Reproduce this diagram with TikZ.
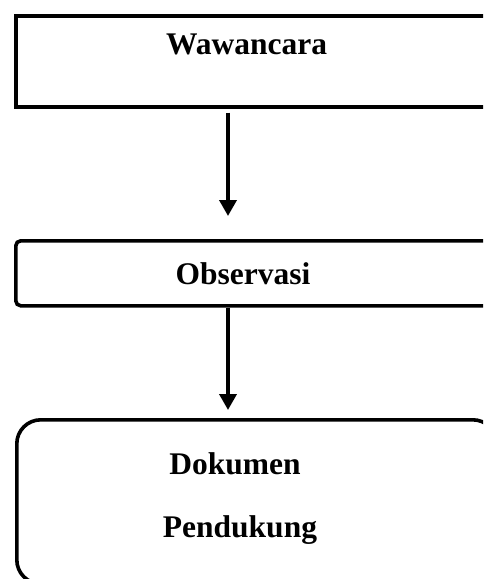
\documentclass[tikz,border=0pt]{standalone}
\usepackage{fontspec}
\setmainfont{Liberation Serif}
\usetikzlibrary{arrows.meta}

\tikzset{
  kotak/.style={draw, line width=3.6pt, inner sep=0pt, anchor=north west},
  teks/.style={font=\fontsize{31.5pt}{38pt}\selectfont\bfseries, anchor=base, inner sep=0pt},
  panah/.style={line width=3.6pt, -{Triangle[width=17pt,length=16pt]}}
}

\begin{document}
\begin{tikzpicture}[x=1pt,y=-1pt]
\clip (0,0) rectangle (483,579);
\fill[white] (0,0) rectangle (483,579);

\node[kotak, minimum width=520pt, minimum height=91pt] (waw) at (14,14) {};
\node[kotak, minimum width=520pt, minimum height=65pt, rounded corners=5pt] (obs) at (14,239) {};
\node[kotak, minimum width=480pt, minimum height=164pt, rounded corners=24pt] (dok) at (15,418) {};

\node[teks] (twaw) at (246.5,54) {Wawancara};
\node[teks] (tobs) at (243,284) {Observasi};
\node[teks] (tdok) at (235,474) {Dokumen};
\node[teks] (tpen) at (240,537) {Pendukung};

\coordinate (sumbu) at (228,0);
\draw[panah, shorten <=4pt, shorten >=23pt] (waw.south -| sumbu) -- (obs.north -| sumbu);
\draw[panah, shorten >=8pt] (obs.south -| sumbu) -- (dok.north -| sumbu);
\end{tikzpicture}
\end{document}
